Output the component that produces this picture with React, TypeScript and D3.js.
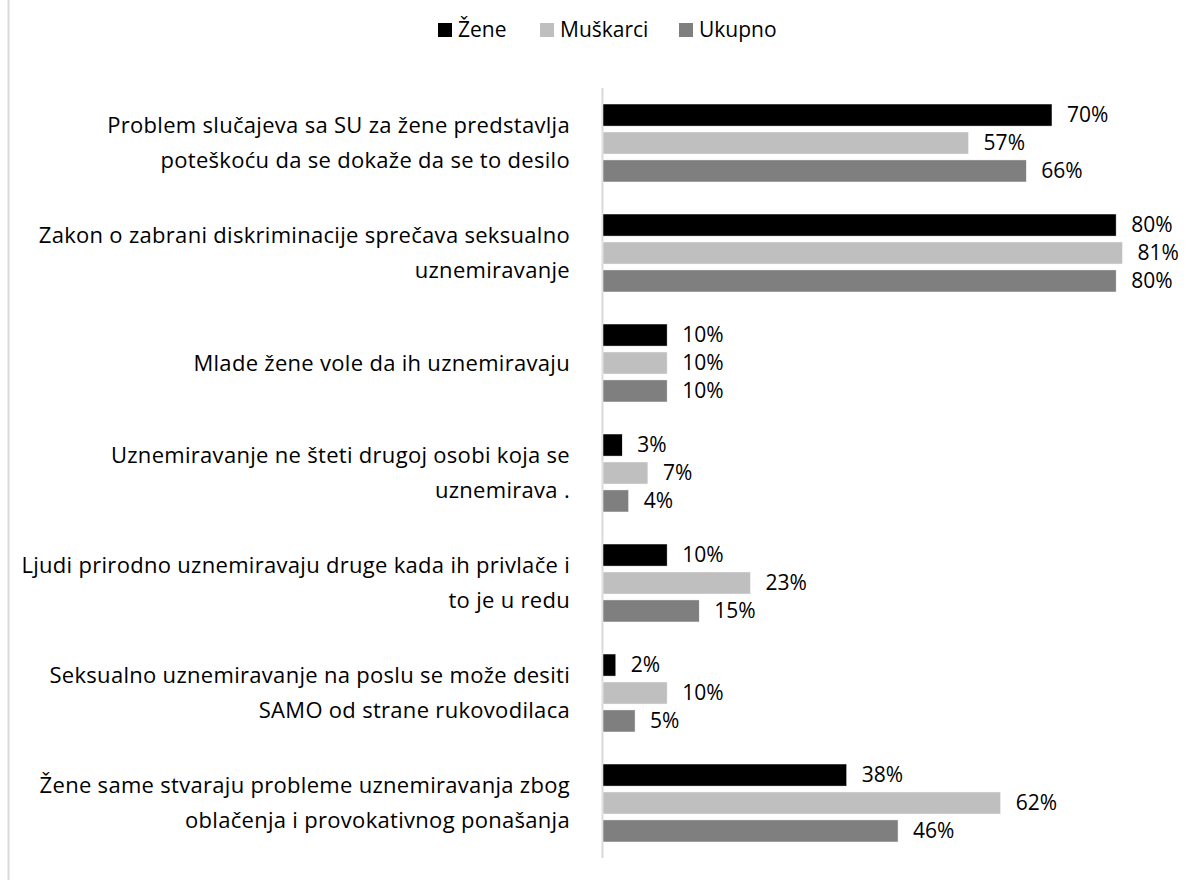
import * as d3 from 'd3';

const WIDTH = 1196;
const HEIGHT = 880;

const categories = [
  ['Problem slučajeva sa SU za žene predstavlja', 'poteškoću da se dokaže da se to desilo'],
  ['Zakon o zabrani diskriminacije sprečava seksualno', 'uznemiravanje'],
  ['Mlade žene vole da ih uznemiravaju'],
  ['Uznemiravanje ne šteti drugoj osobi koja se', 'uznemirava .'],
  ['Ljudi prirodno uznemiravaju druge kada ih privlače i', 'to je u redu'],
  ['Seksualno uznemiravanje na poslu se može desiti', 'SAMO od strane rukovodilaca'],
  ['Žene same stvaraju probleme uznemiravanja zbog', 'oblačenja i provokativnog ponašanja'],
];

const seriesNames = ['Žene', 'Muškarci', 'Ukupno'];
const zene = [70, 80, 10, 3, 10, 2, 38];
const muskarci = [57, 81, 10, 7, 23, 10, 62];
const ukupno = [66, 80, 10, 4, 15, 5, 46];
const seriesValues = [zene, muskarci, ukupno];
const colors = ['#000000', '#bfbfbf', '#7f7f7f'];

const FONT = '"Open Sans", Lato, sans-serif';

export default function App() {
  const plotLeft = 603;
  const plotTop = 88;
  const plotBottom = 858;

  const x = d3.scaleLinear().domain([0, 70]).range([plotLeft, 1052]);
  const y0 = d3
    .scaleBand<number>()
    .domain(d3.range(categories.length))
    .range([plotTop, plotBottom]);
  const y1 = d3
    .scaleBand<number>()
    .domain(d3.range(seriesNames.length))
    .range([16, y0.bandwidth() - 16])
    .paddingInner(0.21);

  const legendX = [438, 540, 679];

  return (
    <div style={{ position: 'fixed', left: 0, top: 0 }}>
      <svg width={WIDTH} height={HEIGHT} style={{ display: 'block', background: '#fff' }}>
        <line x1={8.5} x2={8.5} y1={0} y2={HEIGHT} stroke="#d9d9d9" strokeWidth={2} />

        {/* legend */}
        {seriesNames.map((name, i) => (
          <g key={name} transform={`translate(${legendX[i]}, 30)`}>
            <rect x={0} y={-7} width={14} height={14} fill={colors[i]} />
            <text
              x={20}
              y={0}
              dy="0.35em"
              fontFamily={FONT}
              fontSize={21}
              fill="#000"
            >
              {name}
            </text>
          </g>
        ))}

        {/* axis line */}
        <line
          x1={plotLeft - 0.5}
          x2={plotLeft - 0.5}
          y1={plotTop}
          y2={plotBottom}
          stroke="#d9d9d9"
          strokeWidth={2}
        />

        {categories.map((lines, ci) => {
          const gy = y0(ci) ?? 0;
          const cy = gy + y0.bandwidth() / 2;
          const lh = 35;
          return (
            <g key={ci}>
              <text
                fontFamily={FONT}
                fontSize={22}
                letterSpacing={0.3}
                fill="#000"
                textAnchor="end"
              >
                {lines.map((ln, li) => (
                  <tspan
                    key={li}
                    x={570}
                    y={cy + (li - (lines.length - 1) / 2) * lh}
                    dy="0.35em"
                  >
                    {ln}
                  </tspan>
                ))}
              </text>
              {seriesValues.map((vals, si) => {
                const by = gy + (y1(si) ?? 0);
                const v = vals[ci];
                return (
                  <g key={si}>
                    <rect
                      x={plotLeft}
                      y={by}
                      width={x(v) - plotLeft}
                      height={y1.bandwidth()}
                      fill={colors[si]}
                      stroke="#fff"
                      strokeWidth={0.5}
                    />
                    <text
                      x={x(v) + 15}
                      y={by + y1.bandwidth() / 2}
                      dy="0.35em"
                      fontFamily={FONT}
                      fontSize={21}
                      fill="#000"
                    >
                      {v}%
                    </text>
                  </g>
                );
              })}
            </g>
          );
        })}
      </svg>
    </div>
  );
}
